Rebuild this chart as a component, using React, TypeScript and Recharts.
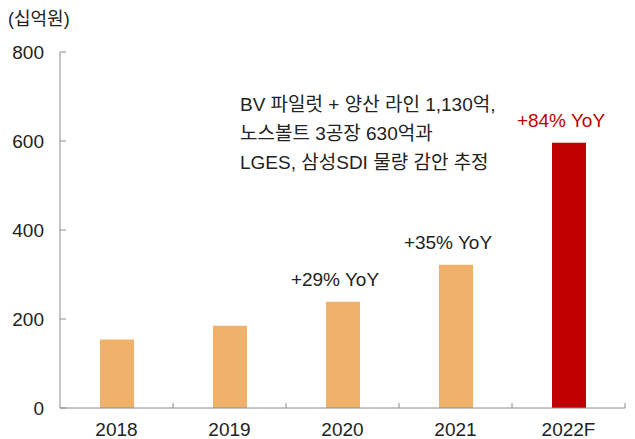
import { BarChart, Bar, XAxis, YAxis, Cell, LabelList } from 'recharts';

const years = ['2018', '2019', '2020', '2021', '2022F'];
const sales = [154, 185, 239, 322, 596];
const yoyLabels = ['', '', '+29% YoY', '+35% YoY', '+84% YoY'];
const barColors = ['#F0B26B', '#F0B26B', '#F0B26B', '#F0B26B', '#C00000'];
const labelColors = ['#222', '#222', '#222', '#222', '#C00000'];
const yTicks = [0, 200, 400, 600, 800];
const noteLines = ['BV 파일럿 + 양산 라인 1,130억,', '노스볼트 3공장 630억과', 'LGES, 삼성SDI 물량 감안 추정'];

const data = years.map((year, i) => ({ year, value: sales[i], yoy: yoyLabels[i] }));

const W = 635;
const H = 439;
const margin = { top: 52, right: 10, left: 0, bottom: 0 };
const yAxisWidth = 60;
const font = 'Arial, "Liberation Sans", "Noto Sans CJK KR", sans-serif';
const axisColor = '#8c8c8c';
const xTickMargin = 15;

const band = (W - yAxisWidth - margin.left - margin.right) / years.length;

// category label in the middle, tick mark on the right edge of the band
function XTick(props: any) {
  const { x, y, payload } = props;
  const axisY = y - xTickMargin;
  return (
    <g>
      <line x1={x + band / 2} x2={x + band / 2} y1={axisY} y2={axisY - 5} stroke={axisColor} />
      <text x={x} y={y} dy="0.71em" textAnchor="middle" fontSize={19} fill="#222" fontFamily={font}>
        {payload.value}
      </text>
    </g>
  );
}

function YoyLabel(props: any) {
  const { x, y, width, value, index } = props;
  if (!value) return null;
  return (
    <text
      x={x + width / 2 - 8}
      y={y - 16}
      textAnchor="middle"
      fontSize={19}
      fill={labelColors[index]}
      fontFamily={font}
    >
      {value}
    </text>
  );
}

export default function App() {
  return (
    <div style={{ position: 'absolute', left: 0, top: 0, width: W, height: H, background: '#fff', fontFamily: font }}>
      <div style={{ position: 'absolute', left: 8, top: 4, fontSize: 18, color: '#222' }}>(십억원)</div>
      <div style={{ position: 'absolute', left: 240, top: 90, fontSize: 19, lineHeight: '29px', color: '#222' }}>
        {noteLines.map((l) => (
          <div key={l}>{l}</div>
        ))}
      </div>
      <BarChart width={W} height={H} data={data} margin={margin} barCategoryGap="30%">
        <XAxis
          dataKey="year"
          height={31}
          stroke={axisColor}
          tickLine={false}
          tickSize={0}
          tickMargin={xTickMargin}
          tick={<XTick />}
          interval={0}
        />
        <YAxis
          domain={[0, 800]}
          ticks={yTicks}
          width={yAxisWidth}
          stroke={axisColor}
          tickSize={-6}
          tickMargin={22}
          tick={{ fontSize: 19, fill: '#222', fontFamily: font }}
        />
        <Bar dataKey="value" isAnimationActive={false} barSize={34}>
          {data.map((d, i) => (
            <Cell key={d.year} fill={barColors[i]} />
          ))}
          <LabelList dataKey="yoy" content={<YoyLabel />} />
        </Bar>
      </BarChart>
    </div>
  );
}
